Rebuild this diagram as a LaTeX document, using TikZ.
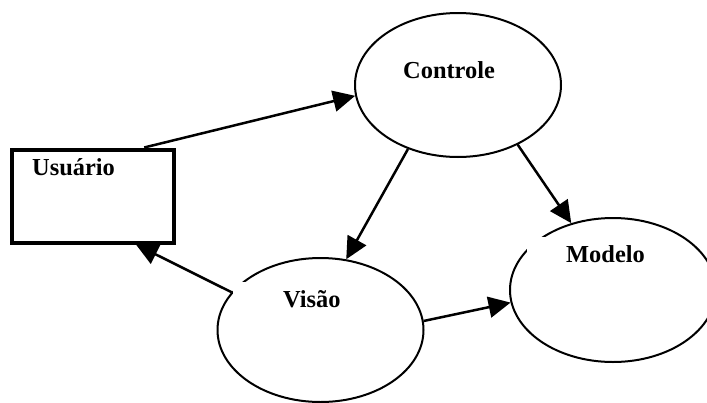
\documentclass[tikz,border=0pt]{standalone}
\usepackage{fontspec}
\setmainfont{Liberation Serif}
\usetikzlibrary{shapes.geometric,arrows.meta,calc}
\begin{document}
\begin{tikzpicture}[x=1pt,y=-1pt,
  oval/.style={draw, ellipse, line width=2pt, minimum width=206pt, minimum height=144pt, inner sep=0pt, outer sep=1pt},
  userbox/.style={draw, rectangle, line width=4pt, inner sep=0pt, outer sep=2pt},
  lbl/.style={font=\fontsize{24.4}{26}\selectfont\bfseries, inner sep=0pt, anchor=base west},
  whitelbl/.style={lbl, fill=white, text height=18pt, text depth=6pt, inner ysep=7pt, inner xsep=0pt},
  arr/.style={-{Triangle[length=22pt,width=21pt]}, line width=2.5pt}]
\useasboundingbox[fill=white] (0,0) rectangle (707,402);

\node[oval] (ctrl) at (458,85) {};
\node[oval] (vis) at (320.5,330) {};
\node[oval] (mod) at (613,290) {};
\node[userbox, minimum width=161.7pt, minimum height=93pt] (usr) at (92.85,196) {};

\node[lbl] (ctrlT) at (403,78) {Controle};
\node[lbl] (usrT) at (32,175) {Usuário};
\node[whitelbl] (visT) at (233,307) {\hspace*{50pt}Visão\hspace*{30pt}};
\node[whitelbl] (modT) at (527,262) {\hspace*{39pt}Modelo\hspace*{10pt}};

\draw[arr] ($(usr.north west)!0.81!(usr.north east)$) -- (ctrl.186);
\draw[arr] (ctrl.232) -- (vis.70);
\draw[arr] (ctrl.-45.5) -- (mod.122);
\draw[arr] (vis.5.5) -- (mod.187);
\draw[arr] (vis.157) -- ($(usr.south west)!0.76!(usr.south east)$);
\end{tikzpicture}
\end{document}
